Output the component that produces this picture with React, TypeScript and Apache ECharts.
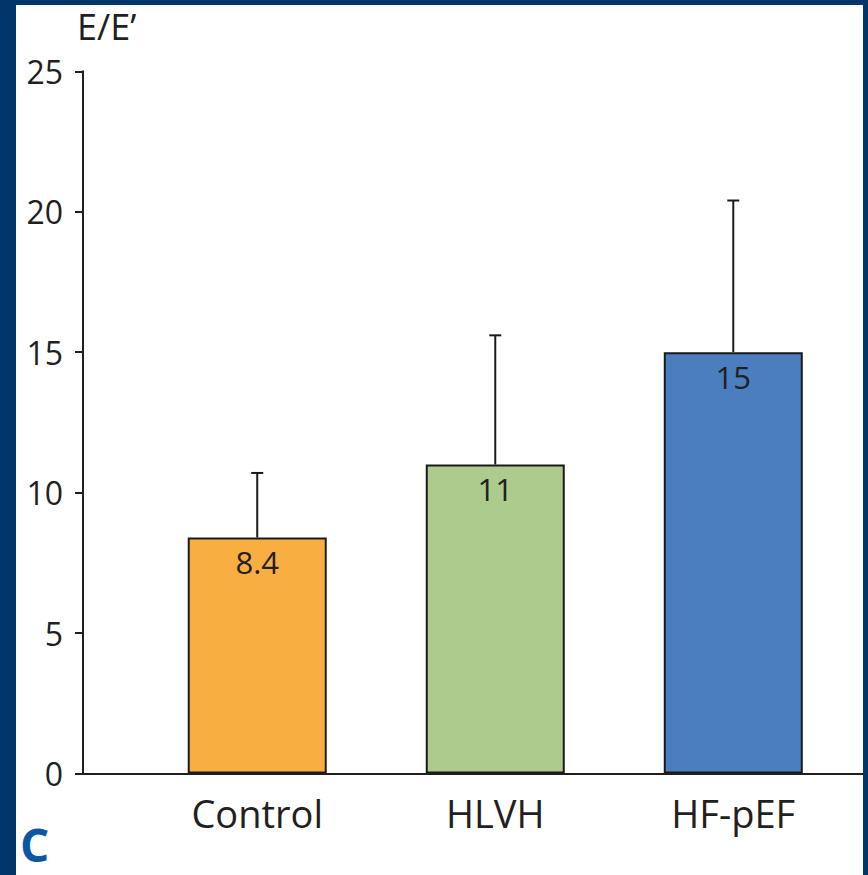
import React, { useEffect, useRef } from "react";
import * as echarts from "echarts";

const categories = ["Control", "HLVH", "HF-pEF"];
const means = [8.4, 11, 15];
const errorTops = [10.7, 15.6, 20.4];
const barColors = ["#F9AE41", "#AECB8E", "#4A7EBF"];
const yMin = 0;
const yMax = 25;
const yInterval = 5;
const yAxisTitle = "E/E\u2019";
const panelLetter = "C";

const FONT = "'Open Sans', 'Noto Sans', sans-serif";
const INK = "#231f20";

export default function App() {
  const ref = useRef<HTMLDivElement>(null);
  useEffect(() => {
    if (!ref.current) return;
    const chart = echarts.init(ref.current, undefined, { renderer: "svg" });
    const barData = means.map((v, i) => ({
      value: [i, v],
      itemStyle: { color: barColors[i] },
    }));
    const errData = means.map((v, i) => [i, v, errorTops[i]]);
    chart.setOption({
      animation: false,
      backgroundColor: "transparent",
      grid: { left: 83, right: 5, top: 71.3, bottom: 101.5, containLabel: false },
      xAxis: {
        type: "value",
        min: -0.732,
        max: 2.545,
        splitLine: { show: false },
        axisTick: { show: false },
        axisLine: { show: true, onZero: true, lineStyle: { color: INK, width: 2 } },
        axisLabel: {
          customValues: [0, 1, 2],
          formatter: (v: number) => categories[Math.round(v)] ?? "",
          color: INK,
          fontFamily: FONT,
          fontSize: 38,
          margin: 20,
        },
      },
      yAxis: {
        type: "value",
        min: yMin,
        max: yMax,
        interval: yInterval,
        splitLine: { show: false },
        axisLine: { show: true, onZero: false, lineStyle: { color: INK, width: 2 } },
        axisTick: { show: true, inside: false, length: 8, lineStyle: { color: INK, width: 2 } },
        axisLabel: {
          color: INK,
          fontFamily: FONT,
          fontSize: 32,
          margin: 20,
        },
      },
      graphic: [
        {
          type: "text",
          left: 77,
          top: 8,
          style: {
            text: yAxisTitle,
            fill: INK,
            font: `36px ${FONT}`,
          },
        },
        {
          type: "text",
          left: 20,
          bottom: 8,
          style: {
            text: panelLetter,
            fill: "#0b57a4",
            font: `bold 46px ${FONT}`,
          },
        },
      ],
      series: [
        {
          type: "bar",
          data: barData,
          barWidth: 139,
          itemStyle: { borderColor: "#1a1a1a", borderWidth: 2 },
          label: {
            show: true,
            position: "insideTop",
            distance: 9,
            color: INK,
            fontFamily: FONT,
            fontSize: 31,
            formatter: (p: any) => String(p.value[1]),
          },
          z: 2,
        },
        {
          type: "custom",
          data: errData,
          z: 3,
          renderItem: (params: any, api: any) => {
            const x = api.value(0);
            const lo = api.value(1);
            const hi = api.value(2);
            const p1 = api.coord([x, lo]);
            const p2 = api.coord([x, hi]);
            const st = { stroke: "#1a1a1a", lineWidth: 2 };
            return {
              type: "group",
              children: [
                { type: "line", shape: { x1: p1[0], y1: p1[1], x2: p2[0], y2: p2[1] }, style: st },
                { type: "line", shape: { x1: p2[0] - 6, y1: p2[1], x2: p2[0] + 6, y2: p2[1] }, style: st },
              ],
            };
          },
        },
      ],
    });
    return () => chart.dispose();
  }, []);

  return (
    <div
      style={{
        position: "fixed",
        left: 0,
        top: 0,
        width: 868,
        height: 875,
        background: "#02366b",
        overflow: "hidden",
      }}
    >
      <div
        style={{
          position: "absolute",
          left: 16,
          top: 5,
          width: 847,
          height: 870,
          background: "#ffffff",
        }}
      />
      <div
        ref={ref}
        style={{ position: "absolute", left: 0, top: 0, width: 868, height: 875 }}
      />
    </div>
  );
}
